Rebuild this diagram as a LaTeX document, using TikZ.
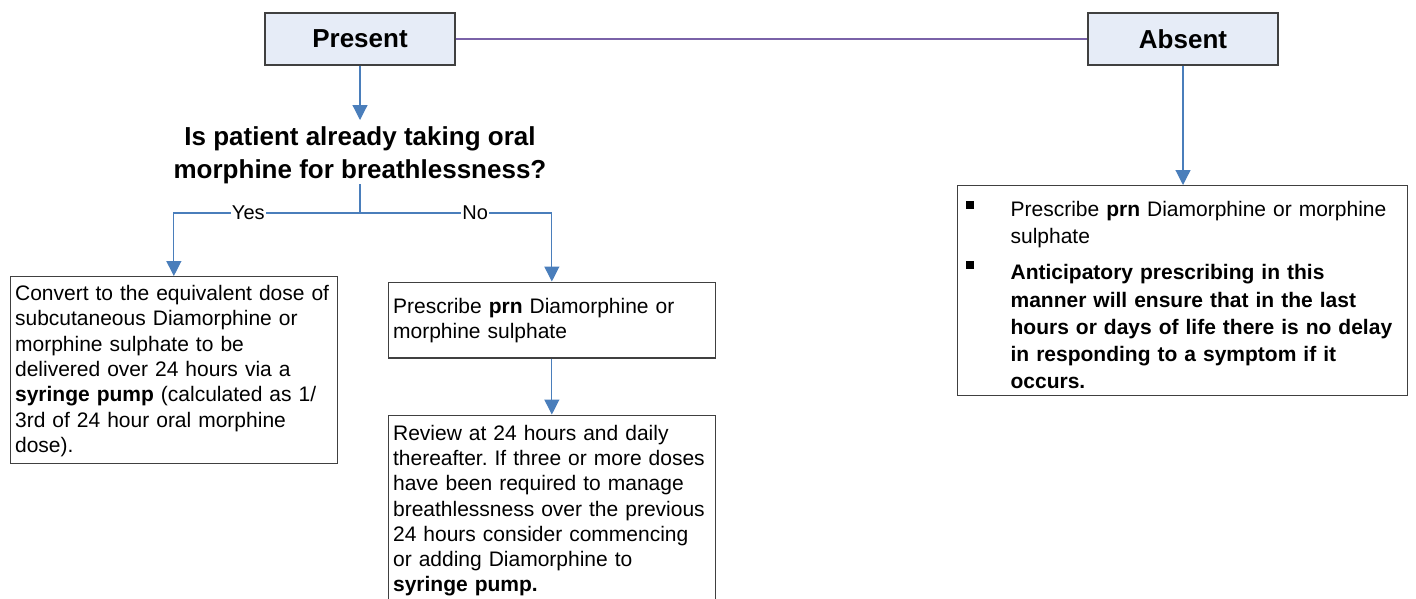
\documentclass[tikz,border=0pt]{standalone}
\usepackage{fontspec}
\setmainfont{Liberation Sans}
\usepackage{xcolor}
\usepackage{tikz}
\usetikzlibrary{arrows.meta, positioning, calc}

\definecolor{headfill}{RGB}{230,236,247}
\definecolor{flowblue}{RGB}{74,126,187}
\definecolor{linkpurple}{RGB}{122,98,168}
\definecolor{boxline}{RGB}{64,64,64}

\newcommand{\sqbullet}[1]{\makebox[48pt][l]{\hspace{3pt}\rule[#1]{8pt}{8pt}}}
\frenchspacing

\begin{document}
\begin{tikzpicture}[x=1pt, y=-1pt,
            every node/.style={font=\fontsize{21}{25.3}\selectfont},
            headbox/.style={draw=boxline, fill=headfill, line width=1.2pt,
                minimum width=190pt, minimum height=52pt, inner sep=0pt,
                font=\fontsize{26}{31}\selectfont\bfseries},
            textbox/.style={draw=boxline, line width=1.2pt, anchor=north west,
                align=left, inner xsep=5pt, inner ysep=3pt},
            flow/.style={draw=flowblue, line width=1.2pt,
                -{Triangle[width=15pt, length=15pt]}},
            link/.style={draw=flowblue, line width=1.2pt},
            branch/.style={fill=white, inner sep=1pt,
                font=\fontsize{20}{24}\selectfont}]
            \useasboundingbox (0,0) rectangle (1416,598);

            % Present
            \node[headbox] (present) at (360,39) {Present};

            % Absent
            \node[headbox] (absent) at (1183,39) {Absent};

            % Question
            \node[anchor=north, align=center, inner sep=0pt,
                font=\fontsize{26}{33.5}\selectfont\bfseries] (question) at (360,120) {
                \rule{0pt}{25pt}Is patient already taking oral\\
                morphine for breathlessness?
            };
            \coordinate (split) at (360,213);

            % Yes branch
            \node[textbox, text width=317.5pt] (convert) at (9.5,276) {
                \rule{0pt}{21pt}Convert to the equivalent dose of\\
                subcutaneous Diamorphine or\\
                morphine sulphate to be\\
                delivered over 24 hours via a\\
                \textbf{syringe pump} (calculated as 1/\\
                3rd of 24 hour oral morphine\\
                dose).\rule[-8pt]{0pt}{8pt}
            };

            % No branch
            \node[textbox, text width=317.5pt] (prescribe) at (387.5,281.5) {
                \rule{0pt}{28.5pt}Prescribe \textbf{prn} Diamorphine or\\
                morphine sulphate\rule[-16pt]{0pt}{16pt}
            };

            % Review
            \node[textbox, text width=317.5pt] (review) at (387.5,414.5) {
                \rule{0pt}{22pt}Review at 24 hours and daily\\
                thereafter. If three or more doses\\
                have been required to manage\\
                breathlessness over the previous\\
                24 hours consider commencing\\
                or adding Diamorphine to\\
                \textbf{syringe pump.}\rule[-10pt]{0pt}{10pt}
            };

            % Absent advice
            \node[textbox, text width=440pt,
                font=\fontsize{21}{27.2}\selectfont] (advice) at (957,185) {
                \hangindent=48pt\hangafter=1\noindent
                \sqbullet{8pt}\rule{0pt}{28pt}Prescribe \textbf{prn} Diamorphine or morphine\newline
                sulphate\par
                \vspace{8.8pt}
                \hangindent=48pt\hangafter=1\noindent
                \sqbullet{11pt}\textbf{Anticipatory prescribing in this\newline
                manner will ensure that in the last\newline
                hours or days of life there is no delay\newline
                in responding to a symptom if it\newline
                occurs.}\rule[-3.5pt]{0pt}{3.5pt}\par
            };

            % Connectors
            \draw[linkpurple, line width=1.2pt] (present) -- (absent);
            \draw[flow] (present) -- (question);
            \draw[link] (question) -- (split);
            \draw[flow] (split) -| node[branch, pos=0.3] {Yes} (convert.north);
            \draw[flow] (split) -| node[branch, pos=0.3] {No} (prescribe.north);
            \draw[flow] (prescribe) -- (review);
            \draw[flow] (absent) -- (absent |- advice.north);
        \end{tikzpicture}
\end{document}
